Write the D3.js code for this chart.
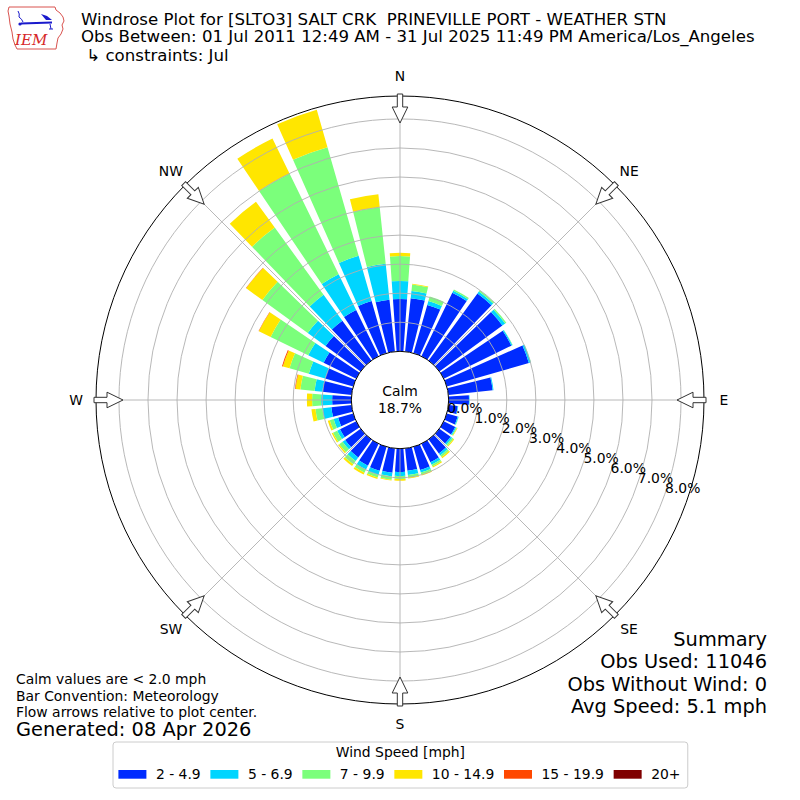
<!DOCTYPE html>
<html>
<head>
<meta charset="utf-8">
<script src="https://cdn.jsdelivr.net/npm/d3@7/dist/d3.min.js"></script>
<style>
  html, body { margin: 0; padding: 0; background: #fff; }
  svg { display: block; font-family: "DejaVu Sans", sans-serif; }
  text { white-space: pre; }
</style>
</head>
<body>
<svg id="rose" width="800" height="800" viewBox="0 0 800 800"></svg>
<script>
/* global d3 */
// wind direction bins (degrees, meteorological)
const directions = [0, 10, 20, 30, 40, 50, 60, 70, 80, 90, 100, 110, 120, 130, 140, 150, 160, 170,
  180, 190, 200, 210, 220, 230, 240, 250, 260, 270, 280, 290, 300, 310, 320, 330, 340, 350];

// frequency (%) per direction for each speed class
const speed2to5 = [1.80, 1.85, 1.73, 2.43, 2.86, 2.68, 2.59, 2.94, 1.53, 0.70, 0.32, 0.39, 0.44, 0.48, 0.60, 0.71, 0.83, 0.77,
  0.80, 0.84, 0.86, 0.84, 0.77, 0.66, 0.62, 0.54, 0.70, 0.66, 1.01, 1.01, 1.25, 1.49, 1.70, 1.77, 1.87, 1.79];
const speed5to7 = [0.62, 0.25, 0.14, 0.08, 0.08, 0.12, 0.04, 0.07, 0.03, 0.02, 0.02, 0.03, 0.04, 0.06, 0.08, 0.09, 0.09, 0.15,
  0.14, 0.13, 0.15, 0.15, 0.15, 0.11, 0.11, 0.16, 0.31, 0.38, 0.27, 0.58, 0.59, 0.76, 1.10, 1.37, 1.62, 1.25];
const speed7to10 = [0.86, 0.22, 0.16, 0.05, 0.05, 0.05, 0.01, 0.01, 0.00, 0.00, 0.00, 0.01, 0.03, 0.06, 0.07, 0.07, 0.07, 0.09,
  0.10, 0.11, 0.09, 0.12, 0.14, 0.14, 0.16, 0.14, 0.24, 0.31, 0.49, 0.69, 1.44, 1.93, 2.86, 3.86, 3.89, 1.96];
const speed10to15 = [0.11, 0.03, 0.00, 0.00, 0.00, 0.00, 0.00, 0.00, 0.00, 0.00, 0.00, 0.00, 0.02, 0.03, 0.05, 0.04, 0.04, 0.03,
  0.06, 0.03, 0.05, 0.07, 0.07, 0.05, 0.05, 0.07, 0.14, 0.18, 0.17, 0.24, 0.45, 0.69, 1.10, 1.34, 1.34, 0.45];
const speed15to20 = [0, 0, 0, 0, 0, 0, 0, 0, 0, 0, 0, 0, 0, 0, 0, 0, 0, 0,
  0, 0, 0, 0, 0, 0, 0, 0, 0, 0, 0.02, 0.03, 0.01, 0.01, 0, 0, 0, 0];
const speed20plus = [0, 0, 0, 0, 0, 0, 0, 0, 0, 0, 0, 0, 0, 0, 0, 0, 0, 0,
  0, 0, 0, 0, 0, 0, 0, 0, 0, 0, 0, 0, 0, 0, 0, 0, 0, 0];

const speedLabels = ["2 - 4.9", "5 - 6.9", "7 - 9.9", "10 - 14.9", "15 - 19.9", "20+"];
const speedColors = ["#002bff", "#00d5ff", "#7bff7b", "#ffe600", "#ff4800", "#800000"];

const ringTicks = [0, 1, 2, 3, 4, 5, 6, 7, 8];
const compassNames = ["N", "NE", "E", "SE", "S", "SW", "W", "NW"];
const compassAngles = [0, 45, 90, 135, 180, 225, 270, 315];

const calmPct = 18.7;
const titleLines = [
  "Windrose Plot for [SLTO3] SALT CRK  PRINEVILLE PORT - WEATHER STN",
  "Obs Between: 01 Jul 2011 12:49 AM - 31 Jul 2025 11:49 PM America/Los_Angeles",
  " \u21b3 constraints: Jul",
];
const noteLines = ["Calm values are < 2.0 mph", "Bar Convention: Meteorology", "Flow arrows relative to plot center."];
const summaryLines = ["Summary", "Obs Used: 11046", "Obs Without Wind: 0", "Avg Speed: 5.1 mph"];

const main = () => {
  const svg = d3.select("#rose");
  const CX = 400;
  const CY = 400;
  const R_OUT = 304;
  const toRad = (deg) => (deg * Math.PI) / 180;

  const r = d3.scaleLinear().domain([0, 8.79]).range([48.7, R_OUT]);

  // stacked segments per direction
  const series = [speed2to5, speed5to7, speed7to10, speed10to15, speed15to20, speed20plus];
  const segments = [];
  directions.forEach((dir, i) => {
    let cum = 0;
    series.forEach((values, k) => {
      const v = values[i];
      if (v > 0) {
        segments.push({ dir, k, from: cum, to: cum + v });
      }
      cum += v;
    });
  });

  const arc = d3.arc();
  const plot = svg.append("g").attr("transform", `translate(${CX},${CY})`);

  plot
    .append("g")
    .attr("class", "bars")
    .selectAll("path")
    .data(segments)
    .enter()
    .append("path")
    .attr("d", (d) =>
      arc({
        innerRadius: r(d.from),
        outerRadius: r(d.to),
        startAngle: toRad(d.dir - 4),
        endAngle: toRad(d.dir + 4),
      })
    )
    .attr("fill", (d) => speedColors[d.k]);

  // grid on top of bars
  const grid = plot.append("g").attr("fill", "none").attr("stroke", "#b0b0b0").attr("stroke-width", 0.9);
  grid
    .selectAll("circle")
    .data(ringTicks.filter((t) => t > 0))
    .enter()
    .append("circle")
    .attr("r", (d) => r(d));
  grid
    .selectAll("line")
    .data(compassAngles)
    .enter()
    .append("line")
    .attr("x1", (d) => r(0) * Math.sin(toRad(d)))
    .attr("y1", (d) => -r(0) * Math.cos(toRad(d)))
    .attr("x2", (d) => R_OUT * Math.sin(toRad(d)))
    .attr("y2", (d) => -R_OUT * Math.cos(toRad(d)));

  // calm circle and outer frame
  plot.append("circle").attr("r", r(0)).attr("fill", "#fff").attr("stroke", "#000").attr("stroke-width", 1);
  plot.append("circle").attr("r", R_OUT).attr("fill", "none").attr("stroke", "#000").attr("stroke-width", 1);

  plot
    .append("text")
    .attr("text-anchor", "middle")
    .attr("font-size", 13.9)
    .selectAll("tspan")
    .data(["Calm", `${calmPct.toFixed(1)}%`])
    .enter()
    .append("tspan")
    .attr("x", 0)
    .attr("y", (d, i) => -4 + i * 17)
    .text((d) => d);

  // flow arrows pointing to the centre
  const arrowPath = "M-2.7,0 L2.7,0 L2.7,13 L7.8,13 L0,29 L-7.8,13 L-2.7,13 Z";
  plot
    .append("g")
    .selectAll("path")
    .data(compassAngles)
    .enter()
    .append("path")
    .attr("d", arrowPath)
    .attr("transform", (d) => `rotate(${d}) translate(0,${-R_OUT - 2})`)
    .attr("fill", "#fff")
    .attr("stroke", "#333")
    .attr("stroke-width", 1);

  plot
    .append("g")
    .attr("font-size", 13.9)
    .attr("text-anchor", "middle")
    .selectAll("text")
    .data(compassAngles)
    .enter()
    .append("text")
    .attr("x", (d) => 324 * Math.sin(toRad(d)))
    .attr("y", (d) => -324 * Math.cos(toRad(d)))
    .attr("dy", "0.35em")
    .text((d, i) => compassNames[i]);

  // radial tick labels
  const LABEL_ANGLE = toRad(20.3);
  plot
    .append("g")
    .attr("font-size", 13.9)
    .selectAll("text")
    .data(ringTicks)
    .enter()
    .append("text")
    .attr("x", (d) => r(d) * Math.cos(LABEL_ANGLE) + 1.5)
    .attr("y", (d) => r(d) * Math.sin(LABEL_ANGLE) - 9.2)
    .attr("dy", "0.35em")
    .text((d) => `${d.toFixed(1)}%`);

  // titles
  const titleY = [24.5, 41.5, 61];
  svg
    .append("g")
    .attr("font-size", 16.6)
    .selectAll("text")
    .data(titleLines)
    .enter()
    .append("text")
    .attr("x", 81)
    .attr("y", (d, i) => titleY[i])
    .text((d) => d);

  // IEM logo
  const logo = svg.append("g").attr("class", "logo");
  logo
    .append("path")
    .attr(
      "d",
      "M9,7 L55,7 L56,10 L60,13 L63,17 L64,21 L62,25 L63,29 L61,34 L58,38 L57,43 L56,49 L17,49 L15,45 L13,39 L12,32 L10,24 L9,16 L8,11 Z"
    )
    .attr("fill", "#fff")
    .attr("stroke", "#d9534f")
    .attr("stroke-width", 1);
  logo.append("line").attr("x1", 21).attr("y1", 23.5).attr("x2", 52).attr("y2", 22.5).attr("stroke", "#1a1acc").attr("stroke-width", 2);
  logo.append("path").attr("d", "M41,14 L47,16 L52,20 L46,20 Z").attr("fill", "#1a1acc");
  logo.append("path").attr("d", "M18,11 Q20,14 19,17 Q22,19 23,22").attr("fill", "none").attr("stroke", "#1a1acc").attr("stroke-width", 1);
  logo.append("circle").attr("cx", 20).attr("cy", 24).attr("r", 1.6).attr("fill", "#1a1acc");
  logo.append("path").attr("d", "M50,24 L51,29 M49,29 L53,29").attr("stroke", "#1a1acc").attr("stroke-width", 1);
  logo
    .append("text")
    .attr("x", 15)
    .attr("y", 45)
    .attr("font-family", "'DejaVu Serif', serif")
    .attr("font-style", "italic")
    .attr("font-size", 15)
    .attr("fill", "#d62728")
    .text("IEM");

  // notes bottom left
  svg
    .append("g")
    .attr("font-size", 13.9)
    .selectAll("text")
    .data(noteLines)
    .enter()
    .append("text")
    .attr("x", 16)
    .attr("y", (d, i) => 684 + i * 16.5)
    .text((d) => d);
  svg.append("text").attr("x", 16).attr("y", 736).attr("font-size", 19.4).text("Generated: 08 Apr 2026");

  // summary bottom right
  svg
    .append("g")
    .attr("font-size", 19.4)
    .attr("text-anchor", "end")
    .selectAll("text")
    .data(summaryLines)
    .enter()
    .append("text")
    .attr("x", 767)
    .attr("y", (d, i) => 646 + i * 22.3)
    .text((d) => d);

  // legend
  const legend = svg.append("g").attr("class", "legend");
  const box = legend
    .append("rect")
    .attr("x", 113)
    .attr("y", 742)
    .attr("height", 46)
    .attr("rx", 3)
    .attr("fill", "#fff")
    .attr("fill-opacity", 0.8)
    .attr("stroke", "#cccccc")
    .attr("stroke-width", 1);
  const items = legend.append("g").attr("font-size", 13.9);
  let x = 118.4;
  speedLabels.forEach((label, i) => {
    items.append("rect").attr("x", x).attr("y", 770).attr("width", 28).attr("height", 8.7).attr("fill", speedColors[i]);
    const t = items.append("text").attr("x", x + 37.5).attr("y", 778.7).text(label);
    x += 37.5 + t.node().getComputedTextLength() + 9.7;
  });
  const right = x - 9.7 + 7.3;
  box.attr("width", right - 113);
  legend
    .append("text")
    .attr("x", (113 + right) / 2)
    .attr("y", 757)
    .attr("text-anchor", "middle")
    .attr("font-size", 13.9)
    .text("Wind Speed [mph]");
};

main();
</script>
</body>
</html>
